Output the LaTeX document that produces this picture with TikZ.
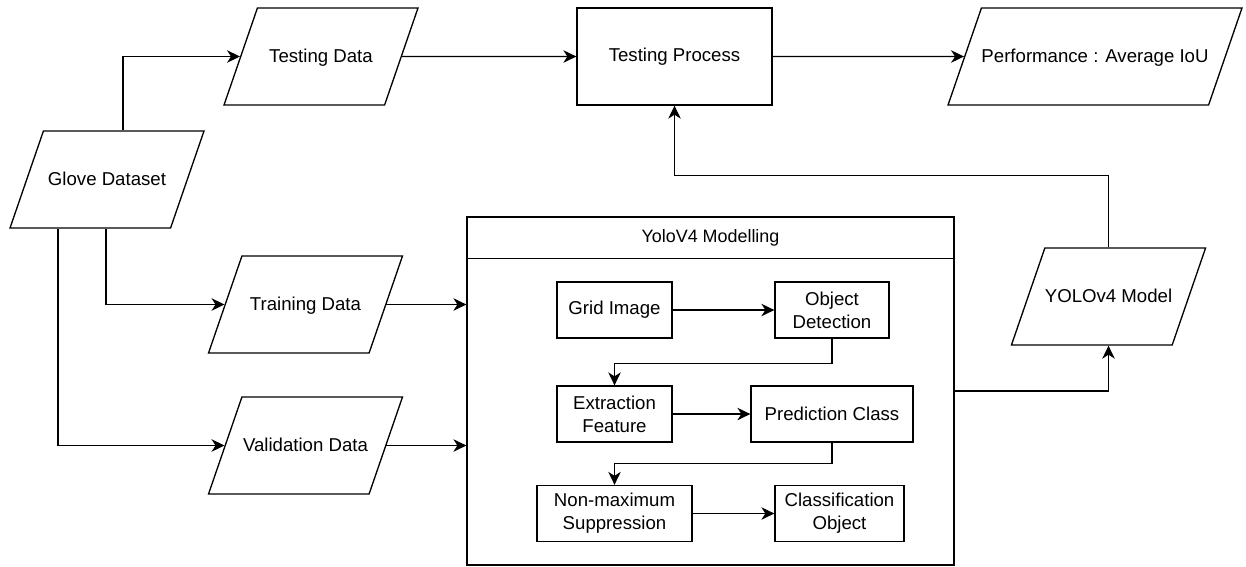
\documentclass[tikz,border=0pt]{standalone}
\usepackage{fontspec}
\setmainfont{Liberation Sans}
\usepackage{tikz}
\usetikzlibrary{positioning,arrows.meta,calc,shapes.geometric}

\begin{document}
\begin{tikzpicture}[
  x=0.02cm, y=-0.02cm, line width=0.75pt,
  every node/.style={font=\fontsize{10.6}{13}\selectfont},
  io/.style={trapezium, trapezium left angle=71, trapezium right angle=109,
    trapezium stretches body, draw, inner xsep=0pt, inner ysep=0.78cm,
    text height=0.3cm, text depth=0.08cm, minimum width=3.88cm},
  proc/.style={draw, align=center, inner sep=0pt, minimum height=1.12cm},
  arr/.style={-{Stealth[length=2.6mm, width=2.5mm, inset=0.8mm]}}
]
  \useasboundingbox (0,0) rectangle (1246,566);

  % --- Top row: data in, testing, result ---
  \node[io]                               (glove)    at (107,179.5)   {Glove Dataset};
  \node[io]                               (testdata) at (321,56.5)    {Testing Data};
  \node[draw, minimum width=3.9cm, minimum height=1.94cm]
                                          (testproc) at (674.5,56.5)  {Testing Process};
  \node[io, minimum width=5.88cm]         (perf)     at (1095,56.5)   {Performance : Average IoU};

  % --- Left column: training / validation split ---
  \node[io]                               (trdata)   at (305.5,304.5) {Training Data};
  \node[io]                               (valdata)  at (305.5,445.5) {Validation Data};
  \node[io]                               (model)    at (1108.5,296.5) {YOLOv4 Model};

  % --- Modelling container with header ---
  \node[draw, minimum width=9.74cm, minimum height=6.96cm] (yolo) at (710.5,391) {};
  \coordinate (hdr) at ($(yolo.north west)+(0,42)$);
  \draw (hdr) -- (hdr -| yolo.east);
  \node[font=\fontsize{10.2}{12}\selectfont] (yolotitle) at ($(yolo.north)+(0,21)$) {YoloV4 Modelling};

  % --- Modelling steps ---
  \node[proc, minimum width=2.3cm]        (grid)     at (614.5,310)   {Grid Image};
  \node[proc, minimum width=2.28cm]       (objdet)   at (832,310)     {Object\\Detection};
  \node[proc, minimum width=2.3cm]        (extract)  at (614.5,414)   {Extraction\\Feature};
  \node[proc, minimum width=3.24cm]       (predict)  at (832,414)     {Prediction Class};
  \node[proc, minimum width=3.1cm]        (nms)      at (614.5,513.5) {Non-maximum\\Suppression};
  \node[proc, minimum width=2.58cm]       (classobj) at (839.5,513.5) {Classification\\Object};

  % --- Arrows: dataset split ---
  \draw[arr] ([xshift=1.6cm]glove.top left corner) |- (testdata.west);
  \draw[arr] ([xshift=1.94cm]glove.bottom left corner) |- (trdata.west);
  \draw[arr] ([xshift=0.98cm]glove.bottom left corner) |- (valdata.west);

  % --- Arrows: testing path ---
  \draw[arr] (testdata.east) -- (testproc.west);
  \draw[arr] (testproc.east) -- (perf.west);

  % --- Arrows: into and out of the model ---
  \draw[arr] (trdata.east)  -- (trdata.east -| yolo.west);
  \draw[arr] (valdata.east) -- (valdata.east -| yolo.west);
  \draw[arr] (yolo.east) -| (model.center |- model.south);
  \draw[arr] (model.center |- model.north) -- ++(0,-72) -| (testproc.south);

  % --- Arrows: modelling steps ---
  \draw[arr] (grid.east)    -- (objdet.west);
  \draw[arr] (objdet.south) -- ++(0,25) -| (extract.north);
  \draw[arr] (extract.east) -- (predict.west);
  \draw[arr] (predict.south) -- ++(0,21) -| (nms.north);
  \draw[arr] (nms.east)     -- (classobj.west);
\end{tikzpicture}
\end{document}
